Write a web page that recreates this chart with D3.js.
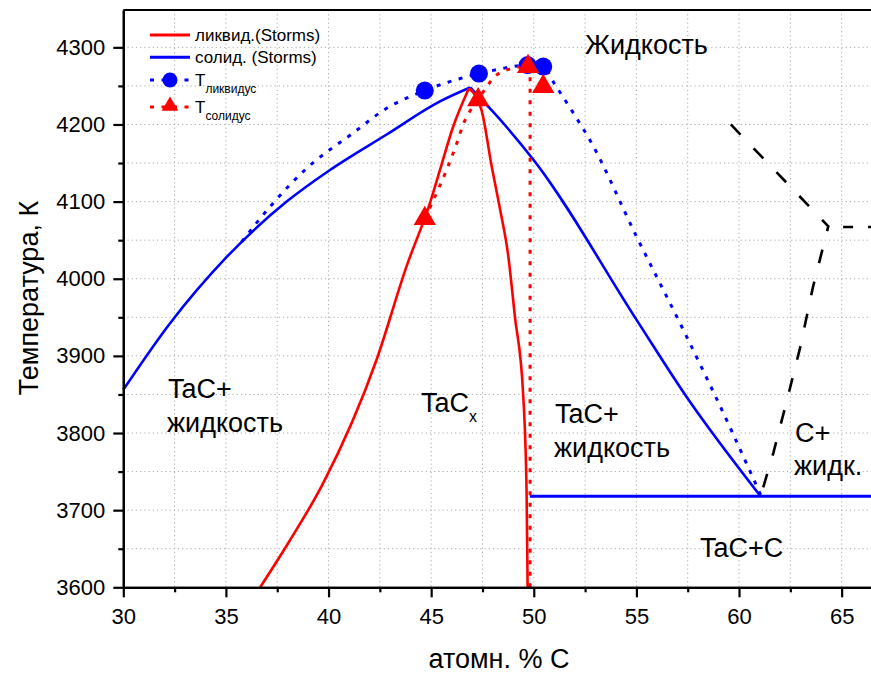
<!DOCTYPE html>
<html>
<head>
<meta charset="utf-8">
<script src="https://cdn.jsdelivr.net/npm/d3@7"></script>
<style>
  body { margin: 0; background: #fff; }
  svg { font-family: "Liberation Sans", Arial, sans-serif; }
</style>
</head>
<body>
<svg id="chart"></svg>
<script>
// values: [атомн. % C, T in K]
var solidusLeft = [[30, 3856], [32.27, 3942], [35.03, 4028], [37.96, 4100], [40.07, 4141], [42.83, 4187], [45.43, 4230], [46.9, 4248]];
var solidusRight = [[46.9, 4248], [48.6, 4199], [50.05, 4152], [55.0, 3947], [57.44, 3847], [61.05, 3718]];
var eutecticLine = [[49.81, 3718], [66.43, 3718]];

var liquidusLeft = [[36.67, 3600], [38.12, 3661], [39.74, 3735], [42.34, 3895], [43.8, 4016], [44.94, 4098], [45.43, 4141], [46.07, 4197], [46.84, 4247]];
var liquidusRight = [[46.84, 4247], [47.46, 4218], [47.94, 4147], [48.35, 4091], [48.75, 4031], [49.08, 3951], [49.48, 3851], [49.65, 3722], [49.7, 3600]];

var tLiqPoints = [[44.69, 4244], [47.33, 4266], [49.7, 4277], [50.46, 4275]];
var tLiqLine = [[35.77, 4048], [37.3, 4098], [38.93, 4143], [41.2, 4189], [42.83, 4221], [44.69, 4244], [47.33, 4266], [48.19, 4271], [49.7, 4277], [50.46, 4275], [51.0, 4253], [51.9, 4216], [52.73, 4180], [55.0, 4055], [57.28, 3934], [59.55, 3808], [61.05, 3720]];

var tSolPoints = [[44.69, 4078], [47.29, 4232], [49.72, 4275], [50.46, 4249]];
var tSolLine = [[44.69, 4078], [46.16, 4169], [46.64, 4205], [47.29, 4232], [48.1, 4262], [48.84, 4272], [49.82, 4276]];
var tSolDrop = [[49.82, 4276], [49.82, 3600]];

var carbonLine = [[59.6, 4200], [64.35, 4068], [63.6, 3989], [62.98, 3911], [62.33, 3842], [61.67, 3774], [61.05, 3718]];
var carbonFlat = [[65.07, 4067], [66.43, 4067]];

var xTicks = [30, 35, 40, 45, 50, 55, 60, 65];
var xMinor = [32.5, 37.5, 42.5, 47.5, 52.5, 57.5, 62.5];
var yTicks = [3600, 3700, 3800, 3900, 4000, 4100, 4200, 4300];
var yMinor = [3650, 3750, 3850, 3950, 4050, 4150, 4250];

var legendNames = ["ликвид.(Storms)", "солид. (Storms)", "ликвидус", "солидус"];

var regionLabels = [
  { text: "Жидкость", x: 585, y: 54 },
  { text: "TaC+", x: 168, y: 398 },
  { text: "жидкость", x: 167, y: 432 },
  { text: "TaC+", x: 555, y: 423 },
  { text: "жидкость", x: 554, y: 457 },
  { text: "C+", x: 795, y: 442 },
  { text: "жидк.", x: 794, y: 475 },
  { text: "TaC+C", x: 700, y: 557 }
];

var width = 871, height = 673;
var plotLeft = 123.3, plotRight = 871, plotTop = 10, plotBottom = 587.3;

var svg = d3.select("#chart").attr("width", width).attr("height", height);

var x = d3.scaleLinear().domain([30, 66.43]).range([plotLeft, plotRight]);
var y = d3.scaleLinear().domain([3600, 4348.4]).range([plotBottom, plotTop]);

// grid
var grid = svg.append("g").attr("stroke", "#aaa").attr("stroke-width", 1).attr("stroke-dasharray", "1.2,3");
grid.selectAll("line.v").data(xMinor.concat(xTicks.slice(1))).enter().append("line")
  .attr("x1", function(d) { return x(d); }).attr("x2", function(d) { return x(d); })
  .attr("y1", plotTop).attr("y2", plotBottom);
grid.selectAll("line.h").data(yMinor.concat(yTicks.slice(1))).enter().append("line")
  .attr("x1", plotLeft).attr("x2", plotRight)
  .attr("y1", function(d) { return y(d); }).attr("y2", function(d) { return y(d); });

var line = d3.line().x(function(d) { return x(d[0]); }).y(function(d) { return y(d[1]); });
var smooth = d3.line().curve(d3.curveMonotoneX).x(function(d) { return x(d[0]); }).y(function(d) { return y(d[1]); });

function drawPath(data, gen, color, w, dash) {
  svg.append("path").datum(data)
    .attr("d", gen)
    .attr("fill", "none")
    .attr("stroke", color)
    .attr("stroke-width", w)
    .attr("stroke-dasharray", dash || null);
}

// C + liquid boundary
drawPath(carbonLine, line, "#000", 2.6, "14,19");
drawPath(carbonFlat, line, "#000", 2.6, "10,15");

// Storms curves
drawPath(solidusLeft, smooth, "#0000ff", 2.6);
drawPath(solidusRight, smooth, "#0000ff", 2.6);
drawPath(eutecticLine, line, "#0000ff", 3);
drawPath(liquidusLeft, smooth, "#ff0000", 2.6);
drawPath(liquidusRight, smooth, "#ff0000", 2.6);

// measured
drawPath(tLiqLine, smooth, "#0000ff", 3, "4,7.5");
drawPath(tSolLine, smooth, "#ff0000", 3, "4,7.5");
drawPath(tSolDrop, line, "#ff0000", 3, "4,7.5");

svg.append("g").selectAll("circle").data(tLiqPoints).enter().append("circle")
  .attr("cx", function(d) { return x(d[0]); })
  .attr("cy", function(d) { return y(d[1]); })
  .attr("r", 9)
  .attr("fill", "#0000ff");

var tri = d3.symbol().type(d3.symbolTriangle).size(215);
svg.append("g").selectAll("path").data(tSolPoints).enter().append("path")
  .attr("d", tri)
  .attr("transform", function(d) { return "translate(" + x(d[0]) + "," + y(d[1]) + ")"; })
  .attr("fill", "#ff0000");

// axes
svg.append("g").attr("transform", "translate(0," + plotBottom + ")")
  .call(d3.axisBottom(x).tickValues(xTicks).tickSize(10).tickSizeOuter(0).tickPadding(11));
svg.append("g").attr("transform", "translate(0," + plotBottom + ")")
  .call(d3.axisBottom(x).tickValues(xMinor).tickSize(5).tickSizeOuter(0).tickFormat(""));
svg.append("g").attr("transform", "translate(" + plotLeft + ",0)")
  .call(d3.axisLeft(y).tickValues(yTicks).tickFormat(d3.format("d")).tickSize(10).tickSizeOuter(0).tickPadding(8));
svg.append("g").attr("transform", "translate(" + plotLeft + ",0)")
  .call(d3.axisLeft(y).tickValues(yMinor).tickSize(5).tickSizeOuter(0).tickFormat(""));

svg.selectAll(".domain").attr("stroke", "#000").attr("stroke-width", 2.2);
svg.selectAll(".tick line").attr("stroke", "#000").attr("stroke-width", 2.2);
svg.selectAll(".tick text").attr("fill", "#000").style("font-size", "22px").style("font-family", "Liberation Sans, Arial, sans-serif");

svg.append("line").attr("x1", plotLeft).attr("x2", plotRight).attr("y1", plotTop).attr("y2", plotTop)
  .attr("stroke", "#000").attr("stroke-width", 2.2);

svg.append("text").attr("x", 499).attr("y", 668).attr("text-anchor", "middle")
  .style("font-size", "27px").text("атомн. % C");
svg.append("text").attr("transform", "translate(38,298)rotate(-90)").attr("text-anchor", "middle")
  .style("font-size", "27px").text("Температура, К");

// region labels
svg.append("g").selectAll("text").data(regionLabels).enter().append("text")
  .attr("x", function(d) { return d.x; })
  .attr("y", function(d) { return d.y; })
  .style("font-size", "27px")
  .text(function(d) { return d.text; });

var tacx = svg.append("text").attr("x", 421).attr("y", 412).style("font-size", "27px");
tacx.append("tspan").text("TaC");
tacx.append("tspan").attr("dy", 10).style("font-size", "16px").text("x");

// legend
var lg = svg.append("g");
var rows = [
  { y: 35, color: "#ff0000", dash: null },
  { y: 57.3, color: "#0000ff", dash: null },
  { y: 80, color: "#0000ff", dash: "4,7.5" },
  { y: 107, color: "#ff0000", dash: "4,7.5" }
];
rows.forEach(function(r, i) {
  lg.append("line").attr("x1", 150).attr("x2", 190).attr("y1", r.y).attr("y2", r.y)
    .attr("stroke", r.color).attr("stroke-width", 3).attr("stroke-dasharray", r.dash);
  if (i < 2) {
    lg.append("text").attr("x", 195).attr("y", r.y + 6).style("font-size", "17px").text(legendNames[i]);
  } else {
    var t = lg.append("text").attr("x", 195).attr("y", r.y + 6).style("font-size", "17px");
    t.append("tspan").text("T");
    t.append("tspan").attr("dy", 7).style("font-size", "12px").text(legendNames[i]);
  }
});
lg.append("circle").attr("cx", 170).attr("cy", 80).attr("r", 7.5).attr("fill", "#0000ff");
lg.append("path").attr("d", d3.symbol().type(d3.symbolTriangle).size(120))
  .attr("transform", "translate(170,106)").attr("fill", "#ff0000");
</script>
</body>
</html>
